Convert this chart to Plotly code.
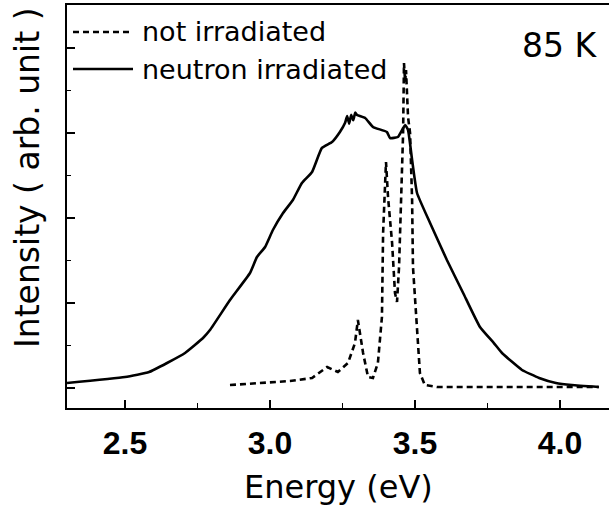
import plotly.graph_objects as go

# ---- data ----
energy_not_irr = [2.862, 2.959, 3.069, 3.145, 3.197, 3.234, 3.269, 3.293, 3.303, 3.321,
                  3.338, 3.355, 3.372, 3.386, 3.390, 3.397, 3.400, 3.407, 3.421, 3.431,
                  3.438, 3.445, 3.452, 3.459, 3.462, 3.466, 3.469, 3.476, 3.483, 3.490,
                  3.493, 3.507, 3.517, 3.534, 3.576, 3.793, 4.134]
intensity_not_irr = [0.035, 0.059, 0.082, 0.118, 0.247, 0.188, 0.294, 0.529, 0.800, 0.412,
                     0.129, 0.118, 0.294, 0.835, 1.824, 2.412, 2.659, 2.247, 1.706, 1.118,
                     1.012, 1.424, 2.212, 3.000, 3.824, 3.60, 3.741, 3.188, 3.000, 2.212,
                     1.424, 0.647, 0.176, 0.035, 0.012, 0.012, 0.012]

energy_neutron = [2.300, 2.500, 2.583, 2.645, 2.707, 2.769, 2.793, 2.862, 2.931, 2.955,
                  2.983, 3.010, 3.045, 3.079, 3.110, 3.145, 3.179, 3.214, 3.241, 3.259,
                  3.266, 3.273, 3.280, 3.287, 3.294, 3.300, 3.328, 3.355, 3.403, 3.414,
                  3.441, 3.466, 3.476, 3.490, 3.507, 3.552, 3.610, 3.666, 3.724, 3.772,
                  3.800, 3.869, 3.928, 3.986, 4.041, 4.134]
intensity_neutron = [0.059, 0.129, 0.188, 0.294, 0.412, 0.588, 0.682, 1.035, 1.353, 1.541,
                     1.659, 1.859, 2.059, 2.212, 2.412, 2.541, 2.824, 2.894, 3.012, 3.120,
                     3.200, 3.110, 3.215, 3.150, 3.240, 3.212, 3.176, 3.071, 3.012, 2.941,
                     2.953, 3.094, 3.035, 2.682, 2.294, 1.941, 1.506, 1.118, 0.718, 0.529,
                     0.412, 0.212, 0.118, 0.059, 0.035, 0.012]

x_tick_values = [2.5, 3.0, 3.5, 4.0]
x_tick_labels = ["2.5", "3.0", "3.5", "4.0"]
y_tick_values = [0, 1, 2, 3, 4]
series_names = ["not irradiated", "neutron irradiated"]
temperature_label = "85 K"
x_title = "Energy (eV)"
y_title = "Intensity ( arb. unit )"

W, H = 609, 514
L, R, T, B = 67, 0, 5, 106
plot_w, plot_h = W - L - R, H - T - B


def px_x(p):
    return (p - L) / plot_w


def px_y(p):
    return (H - B - p) / plot_h


fig = go.Figure()
fig.add_trace(go.Scatter(x=energy_not_irr, y=intensity_not_irr, mode="lines",
                         name=series_names[0],
                         line=dict(color="black", width=2.6, dash="6px,4px")))
fig.add_trace(go.Scatter(x=energy_neutron, y=intensity_neutron, mode="lines",
                         name=series_names[1],
                         line=dict(color="black", width=2.6, shape="spline", smoothing=0.4)))

# manual legend (long sample lines as in the reference)
legend_rows = [(32, 31, "6px,4px"), (69, 69, "solid")]
for (yl, yt, dash), name in zip(legend_rows, series_names):
    fig.add_shape(type="line", xref="paper", yref="paper",
                  x0=px_x(73), x1=px_x(133), y0=px_y(yl), y1=px_y(yl),
                  line=dict(color="black", width=2.6, dash=dash))
    fig.add_annotation(xref="paper", yref="paper", x=px_x(140), y=px_y(yt),
                       text=name, showarrow=False, xanchor="left", yanchor="middle",
                       font=dict(family="DejaVu Sans", size=27, color="black"))

fig.add_annotation(xref="paper", yref="paper", x=px_x(599), y=px_y(45),
                   text=temperature_label, showarrow=False, xanchor="right", yanchor="middle",
                   font=dict(family="DejaVu Sans", size=33, color="black"))

fig.add_annotation(xref="paper", yref="paper", x=px_x(27), y=px_y(178),
                   text=y_title, showarrow=False, textangle=-90,
                   xanchor="center", yanchor="middle",
                   font=dict(family="DejaVu Sans", size=33, color="black"))

fig.add_annotation(xref="paper", yref="paper", x=px_x(338), y=px_y(487),
                   text=x_title, showarrow=False,
                   xanchor="center", yanchor="middle",
                   font=dict(family="DejaVu Sans", size=32, color="black"))

fig.update_layout(
    width=W, height=H,
    margin=dict(l=L, r=R, t=T, b=B),
    paper_bgcolor="white", plot_bgcolor="white",
    showlegend=False,
    xaxis=dict(
        range=[2.3, 2.3 + plot_w / 290.0],
        tickvals=x_tick_values, ticktext=x_tick_labels,
        ticks="inside", ticklen=8, tickwidth=1.5, tickcolor="black",
        minor=dict(tick0=2.25, dtick=0.25, ticks="inside", ticklen=5,
                   tickwidth=1.2, tickcolor="black"),
        showline=True, linecolor="black", linewidth=2, mirror=True,
        showgrid=False, zeroline=False,
        tickfont=dict(family="Liberation Sans", size=32, color="black", weight="bold"),
        ticklabelstandoff=6,
    ),
    yaxis=dict(
        range=[(388 - 408) / 85.0, (388 - 5) / 85.0],
        tickvals=y_tick_values, showticklabels=False,
        ticks="inside", ticklen=8, tickwidth=1.5, tickcolor="black",
        minor=dict(tick0=0, dtick=0.5, ticks="inside", ticklen=4,
                   tickwidth=1.2, tickcolor="black"),
        showline=True, linecolor="black", linewidth=2, mirror=False,
        showgrid=False, zeroline=False,
    ),
)

fig.write_html("out.html", config={"displayModeBar": False},
               post_script="document.body.style.margin='0';")
